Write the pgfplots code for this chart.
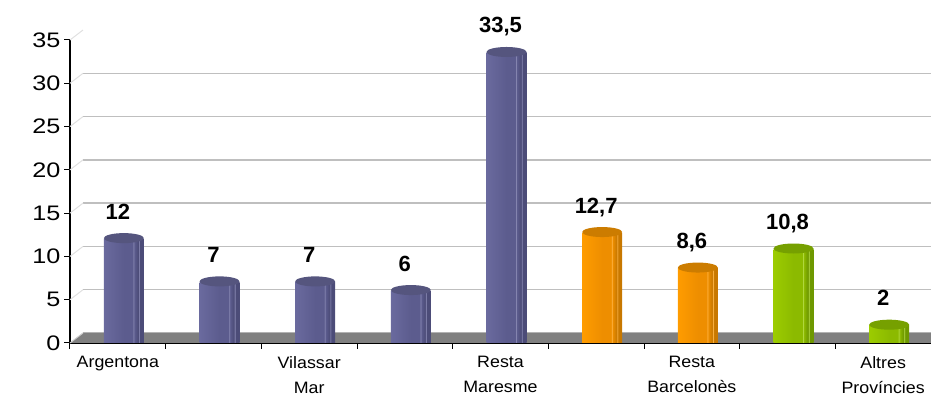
\documentclass[border=0pt]{standalone}
\usepackage{pgfplots}
\pgfplotsset{compat=1.18}
\usepackage{fontspec}
\setmainfont{Liberation Sans}
\definecolor{bluL}{HTML}{6A6A9E}
\definecolor{bluM}{HTML}{5C5C8E}
\definecolor{bluR}{HTML}{4C4C78}
\definecolor{bluH}{HTML}{8A8AB4}
\definecolor{bluC}{HTML}{55557E}
\definecolor{orL}{HTML}{FF9C00}
\definecolor{orM}{HTML}{EE8E00}
\definecolor{orR}{HTML}{C87800}
\definecolor{orH}{HTML}{FFB445}
\definecolor{orC}{HTML}{CC7C00}
\definecolor{grL}{HTML}{9CCC00}
\definecolor{grM}{HTML}{8CBA00}
\definecolor{grR}{HTML}{6E9800}
\definecolor{grH}{HTML}{BCE050}
\definecolor{grC}{HTML}{76A000}
\definecolor{floorgray}{HTML}{808080}
\pgfdeclarehorizontalshading{cylblue}{100bp}{color(0bp)=(bluL); color(25bp)=(bluL); color(50bp)=(bluM); color(61bp)=(bluM); color(62bp)=(bluH); color(63bp)=(bluM); color(68bp)=(bluR); color(69bp)=(bluH); color(70bp)=(bluR); color(75bp)=(bluR); color(100bp)=(bluR)}
\pgfdeclarehorizontalshading{cylor}{100bp}{color(0bp)=(orL); color(25bp)=(orL); color(50bp)=(orM); color(61bp)=(orM); color(62bp)=(orH); color(63bp)=(orM); color(68bp)=(orR); color(69bp)=(orH); color(70bp)=(orR); color(75bp)=(orR); color(100bp)=(orR)}
\pgfdeclarehorizontalshading{cylgr}{100bp}{color(0bp)=(grL); color(25bp)=(grL); color(50bp)=(grM); color(61bp)=(grM); color(62bp)=(grH); color(63bp)=(grM); color(68bp)=(grR); color(69bp)=(grH); color(70bp)=(grR); color(75bp)=(grR); color(100bp)=(grR)}
\pgfdeclareplotmark{cap}{\pgfpathellipse{\pgfpoint{6pt}{1pt}}{\pgfpoint{20pt}{0pt}}{\pgfpoint{0pt}{5pt}}\pgfusepathqfill}
\pgfplotsset{
  cyl/.style={ybar, bar width=40pt, bar shift=6pt, draw=none, shading=#1, forget plot},
  lab/.style={ybar, bar width=40pt, bar shift=6pt, draw=none, fill=none, forget plot,
    nodes near coords, every node near coord/.append style={anchor=base, yshift=20pt, text=black,
      font=\bfseries\fontsize{22}{24}\selectfont}},
}
\begin{document}
\begin{tikzpicture}
\useasboundingbox (-70pt,-58pt) rectangle (861pt,343pt);
\begin{axis}[
  at={(0pt,0pt)}, anchor=south west,
  scale only axis, width=861pt, height=303pt,
  xmin=-0.5, xmax=8.5, ymin=0, ymax=35,
  clip=false,
  axis x line=bottom, axis y line=left,
  axis line style={-, line width=1.3pt, black},
  tick align=outside,
  major tick length=6pt,
  tick style={black, line width=1pt},
  /pgf/number format/assume math mode=true,
  /pgf/number format/use comma,
  ytick={0,5,...,35},
  yticklabel style={font=\fontsize{21}{24}\selectfont\addfontfeatures{FakeStretch=1.2}},
  xtick={-0.5,0.5,...,8.5},
  xticklabels={},
  extra x ticks={0,2,4,6,8},
  extra x tick labels={Argentona,{Vilassar\\Mar},{Resta\\Maresme},{Resta\\Barcelonès},{Altres\\Províncies}},
  extra x tick style={major tick length=0pt, tick label style={align=center, font=\fontsize{16.5}{25}\selectfont\addfontfeatures{FakeStretch=1.08}, yshift=-10pt}},
]
% back wall gridlines
\pgfplotsinvokeforeach{5,10,...,30}{
  \draw[color=black!25, line width=1.3pt] ([shift={(13pt,10pt)}]axis cs:-0.5,#1) -- ([yshift=10pt]axis cs:8.5,#1);
}
\pgfplotsinvokeforeach{5,10,...,35}{
  \draw[color=black!12, line width=1pt] (axis cs:-0.5,#1) -- ++(13pt,10pt);
}
% floor
\fill[floorgray] (axis cs:-0.5,0) -- (axis cs:8.5,0) -- ([yshift=10pt]axis cs:8.5,0) -- ([shift={(13pt,10pt)}]axis cs:-0.5,0) -- cycle;
\draw[black!30, line width=1pt] ([shift={(13pt,10pt)}]axis cs:-0.5,0) -- ([yshift=10pt]axis cs:8.5,0);
\draw[black!20, line width=1pt] (axis cs:-0.5,0) -- ++(13pt,10pt);
% bars
\addplot[cyl=cylblue] coordinates {(0,12)};
\addplot[cyl=cylblue] coordinates {(1,7)};
\addplot[cyl=cylblue] coordinates {(2,7)};
\addplot[cyl=cylblue] coordinates {(3,6)};
\addplot[cyl=cylblue] coordinates {(4,33.5)};
\addplot[cyl=cylor] coordinates {(5,12.7)};
\addplot[cyl=cylor] coordinates {(6,8.6)};
\addplot[cyl=cylgr] coordinates {(7,10.8)};
\addplot[cyl=cylgr] coordinates {(8,2)};
% caps
\addplot[only marks, mark=cap, mark options={fill=bluC, draw=none}, forget plot] coordinates {(0,12) (1,7) (2,7) (3,6) (4,33.5)};
\addplot[only marks, mark=cap, mark options={fill=orC, draw=none}, forget plot] coordinates {(5,12.7) (6,8.6)};
\addplot[only marks, mark=cap, mark options={fill=grC, draw=none}, forget plot] coordinates {(7,10.8) (8,2)};
% labels
\addplot[lab] coordinates {(0,12) (1,7) (2,7) (3,6) (4,33.5) (5,12.7) (6,8.6) (7,10.8) (8,2)};
\end{axis}
\end{tikzpicture}
\end{document}
